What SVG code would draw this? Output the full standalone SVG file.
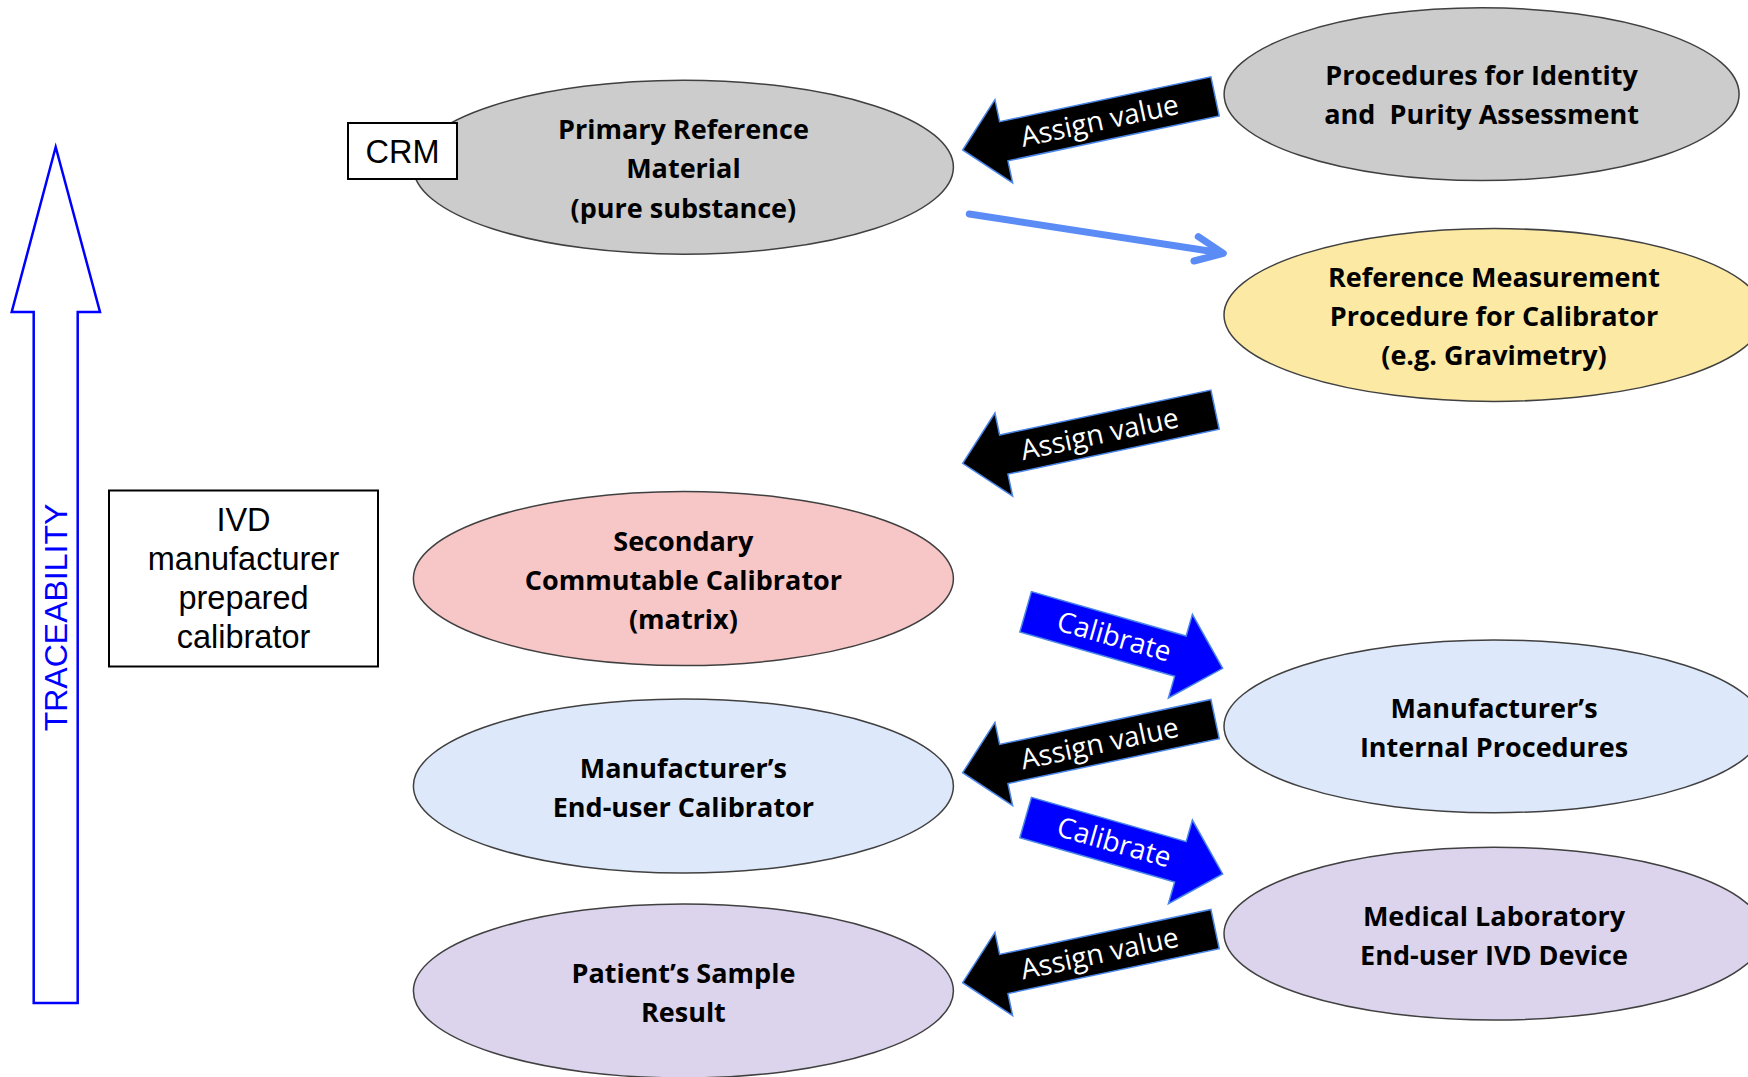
<svg xmlns="http://www.w3.org/2000/svg" width="1748" height="1077" viewBox="0 0 1748 1077">
<style>
.ell{stroke:#404040;stroke-width:1.5}
.et{font-family:"Open Sans","Noto Sans",sans-serif;font-weight:700;font-size:27px;fill:#000;text-anchor:middle}
.bx{fill:#fff;stroke:#000;stroke-width:2}
.bt{font-family:"Liberation Sans",Arial,sans-serif;font-size:32.5px;fill:#000;text-anchor:middle}
.assign{fill:#000;stroke:#4a86e8;stroke-width:1.5;stroke-linejoin:miter}
.calib{fill:#0000ff;stroke:#4a86e8;stroke-width:1.5;stroke-linejoin:miter}
.at{font-family:"Open Sans","Noto Sans",sans-serif;font-size:28px;fill:#fff;text-anchor:middle}
.line{fill:none;stroke:#5b8cf6;stroke-width:7;stroke-linecap:round;stroke-linejoin:round}
</style>
<defs>
<path id="assignShape" d="M0,0 L42,-42.5 L42,-20 L258,-20 L258,20 L42,20 L42,42.5 Z"/>
<path id="calibShape" d="M0,0 L-44,-43.5 L-44,-21 L-205,-21 L-205,21 L-44,21 L-44,43.5 Z"/>
</defs>
<rect width="1748" height="1077" fill="#fff"/>

<g id="traceability">
<polygon points="55.7,147 100,312 77.7,312 77.7,1003 33.7,1003 33.7,312 11.7,312" fill="#fff" stroke="#0000ff" stroke-width="2.5"/>
<text transform="translate(66.5,617.5) rotate(-90)" x="0" y="0" font-family="Liberation Sans, Arial, sans-serif" font-size="32" fill="#0000ff" text-anchor="middle">TRACEABILITY</text>
</g>

<g id="ivd-box">
<rect class="bx" x="109" y="490.5" width="269" height="176"/>
<text class="bt" x="243.5" y="530.5">IVD</text>
<text class="bt" x="243.5" y="570">manufacturer</text>
<text class="bt" x="243.5" y="609">prepared</text>
<text class="bt" x="243.5" y="648">calibrator</text>
</g>

<g id="primary">
<ellipse class="ell" cx="683.4" cy="167.2" rx="270" ry="87" fill="#cccccc"/>
<text class="et" x="683.4" y="139">Primary Reference</text>
<text class="et" x="683.4" y="178">Material</text>
<text class="et" x="683.4" y="218">(pure substance)</text>
</g>

<g id="crm">
<rect class="bx" x="348" y="123" width="109" height="56"/>
<text class="bt" x="402.5" y="162.5">CRM</text>
</g>

<g id="procedures">
<ellipse class="ell" cx="1481.6" cy="94.2" rx="257.5" ry="86.4" fill="#cccccc"/>
<text class="et" x="1481.6" y="85">Procedures for Identity</text>
<text class="et" x="1481.6" y="124" xml:space="preserve">and  Purity Assessment</text>
</g>

<g id="ref-measurement">
<ellipse class="ell" cx="1494" cy="315" rx="270" ry="86.4" fill="#fce9a4"/>
<text class="et" x="1494" y="286.5">Reference Measurement</text>
<text class="et" x="1494" y="325.5">Procedure for Calibrator</text>
<text class="et" x="1494" y="364.5">(e.g. Gravimetry)</text>
</g>

<g id="secondary">
<ellipse class="ell" cx="683.4" cy="578.6" rx="270" ry="87" fill="#f7c6c7"/>
<text class="et" x="683.4" y="550.7">Secondary</text>
<text class="et" x="683.4" y="589.7">Commutable Calibrator</text>
<text class="et" x="683.4" y="628.7">(matrix)</text>
</g>

<g id="internal">
<ellipse class="ell" cx="1494" cy="726.3" rx="270" ry="86.4" fill="#dde8fb"/>
<text class="et" x="1494" y="718">Manufacturer’s</text>
<text class="et" x="1494" y="757">Internal Procedures</text>
</g>

<g id="enduser-calibrator">
<ellipse class="ell" cx="683.4" cy="786" rx="270" ry="87" fill="#dde8fb"/>
<text class="et" x="683.4" y="778">Manufacturer’s</text>
<text class="et" x="683.4" y="817">End-user Calibrator</text>
</g>

<g id="medical-lab">
<ellipse class="ell" cx="1494" cy="933.6" rx="270" ry="86.4" fill="#dcd3ec"/>
<text class="et" x="1494" y="926">Medical Laboratory</text>
<text class="et" x="1494" y="965">End-user IVD Device</text>
</g>

<g id="patient">
<ellipse class="ell" cx="683.4" cy="991" rx="270" ry="87" fill="#dcd3ec"/>
<text class="et" x="683.4" y="983">Patient’s Sample</text>
<text class="et" x="683.4" y="1022">Result</text>
</g>

<g id="connectors">
<path class="line" d="M969.3,214 L1222,253 M1198.3,236.7 L1223.3,253.3 L1194,261"/>

<g transform="translate(962.7,150) rotate(-12)">
<use href="#assignShape" class="assign"/>
<text class="at" x="140" y="9.5">Assign value</text>
</g>
<g transform="translate(962.7,463.3) rotate(-12)">
<use href="#assignShape" class="assign"/>
<text class="at" x="140" y="9.5">Assign value</text>
</g>
<g transform="translate(962.7,772.7) rotate(-12)">
<use href="#assignShape" class="assign"/>
<text class="at" x="140" y="9.5">Assign value</text>
</g>
<g transform="translate(962.7,982.7) rotate(-12)">
<use href="#assignShape" class="assign"/>
<text class="at" x="140" y="9.5">Assign value</text>
</g>

<g transform="translate(1222.7,668.3) rotate(16)">
<use href="#calibShape" class="calib"/>
<text class="at" x="-113" y="9">Calibrate</text>
</g>
<g transform="translate(1222.7,874) rotate(16)">
<use href="#calibShape" class="calib"/>
<text class="at" x="-113" y="9">Calibrate</text>
</g>
</g>
</svg>
